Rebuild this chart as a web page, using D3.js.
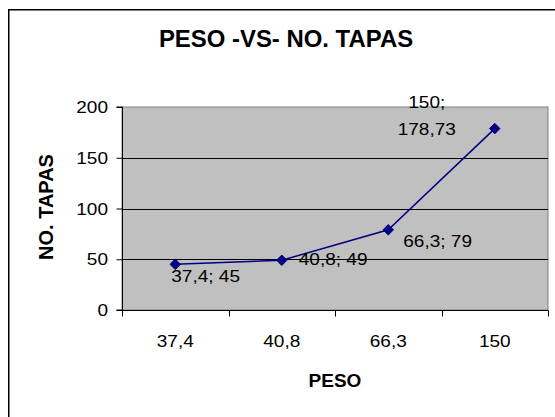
<!DOCTYPE html>
<html>
<head>
<meta charset="utf-8">
<script src="https://cdn.jsdelivr.net/npm/d3@7"></script>
<style>
  html, body { margin: 0; padding: 0; background: #fff; }
  svg { display: block; font-family: "Liberation Sans", Arial, sans-serif; }
</style>
</head>
<body>
<svg id="chart" width="555" height="417"></svg>
<script>
// Weight categories (x) and number of caps (y)
const categories = ["37,4", "40,8", "66,3", "150"];
const tapas = [45, 49, 79, 178.73];
const yTicks = [0, 50, 100, 150, 200];

const svg = d3.select("#chart");
const W = 555, H = 417;
const SX = 1.12; // horizontal stretch of the chart's lettering

// Text helper: places a string at (x, y) with a horizontal stretch
function label(g, x, y, str, opts = {}) {
  return g.append("text")
    .attr("transform", `translate(${x},${y}) scale(${opts.sx || SX},1)`)
    .attr("text-anchor", opts.anchor || "start")
    .attr("font-size", opts.size || 17)
    .attr("font-weight", opts.bold ? "bold" : null)
    .attr("fill", "#000")
    .text(str);
}

// Outer chart frame
svg.append("rect")
  .attr("x", 8.75).attr("y", 9.75)
  .attr("width", W + 10).attr("height", H + 10)
  .attr("fill", "#fff").attr("stroke", "#000").attr("stroke-width", 1.5);

const plot = { left: 122, right: 548, top: 107, bottom: 310 };

const x = d3.scaleBand().domain(categories).range([plot.left, plot.right]).padding(0);
const y = d3.scaleLinear().domain([0, 200]).range([plot.bottom, plot.top]);

// Plot area background
svg.append("rect")
  .attr("x", plot.left).attr("y", plot.top)
  .attr("width", plot.right - plot.left).attr("height", plot.bottom - plot.top)
  .attr("fill", "#c0c0c0").attr("stroke", "#808080").attr("stroke-width", 1);

// Horizontal gridlines
svg.append("g").selectAll("line")
  .data(yTicks.filter(t => t > 0 && t < 200))
  .join("line")
  .attr("x1", plot.left).attr("x2", plot.right)
  .attr("y1", d => Math.round(y(d)) + 0.5).attr("y2", d => Math.round(y(d)) + 0.5)
  .attr("stroke", "#000").attr("stroke-width", 1);

// Y axis
const yAxis = d3.axisLeft(y).tickValues(yTicks).tickSize(6).tickFormat("");
const gy = svg.append("g").attr("transform", `translate(${plot.left + 0.5},0)`).call(yAxis);
gy.select(".domain").attr("stroke", "#000").attr("d", `M-6,${plot.top}H0V${plot.bottom}H-6`);
gy.selectAll(".tick line").attr("stroke", "#000");
yTicks.forEach(t => label(svg, plot.left - 14, y(t) + 6, String(t), { anchor: "end" }));

// X axis: labels centred in each band, tick marks on band boundaries
const gx = svg.append("g").attr("transform", `translate(0,${plot.bottom + 0.5})`);
gx.append("line")
  .attr("x1", plot.left).attr("x2", plot.right + 0.5)
  .attr("stroke", "#000");
const bounds = categories.map(c => x(c)).concat([x(categories[categories.length - 1]) + x.bandwidth()]);
gx.selectAll("line.tk").data(bounds).join("line").attr("class", "tk")
  .attr("x1", d => Math.round(d) + 0.5).attr("x2", d => Math.round(d) + 0.5)
  .attr("y1", 0).attr("y2", 6).attr("stroke", "#000");
categories.forEach(c => label(gx, x(c) + x.bandwidth() / 2, 36, c, { anchor: "middle" }));

// Titles
label(svg, 286, 47, "PESO -VS- NO. TAPAS", { anchor: "middle", size: 23, bold: true, sx: 1.04 });
label(svg, 335, 387, "PESO", { anchor: "middle", size: 19, bold: true, sx: 1 });
svg.append("text")
  .attr("transform", "translate(53,207) rotate(-90)")
  .attr("text-anchor", "middle")
  .attr("font-size", 20).attr("font-weight", "bold")
  .text("NO. TAPAS");

// Series line and markers
const pts = categories.map((c, i) => ({ cat: c, v: tapas[i], px: x(c) + x.bandwidth() / 2, py: y(tapas[i]) }));

svg.append("path")
  .datum(pts)
  .attr("fill", "none").attr("stroke", "#000080").attr("stroke-width", 1.5)
  .attr("d", d3.line().x(d => d.px).y(d => d.py));

svg.append("g").selectAll("path")
  .data(pts).join("path")
  .attr("transform", d => `translate(${d.px},${d.py})`)
  .attr("d", d3.symbol().type(d3.symbolDiamond2).size(70))
  .attr("fill", "#000080").attr("stroke", "#000080");

// Data labels "x; y"
const fmt = v => String(v).replace(".", ",");
const labelPos = [
  { dx: -4, lines: [18], anchor: "start", oneLine: true },
  { dx: 17, lines: [5], anchor: "start", oneLine: true },
  { dx: 15, lines: [17], anchor: "start", oneLine: true },
  { dx: -68, lines: [-21, 6], anchor: "middle", oneLine: false }
];
pts.forEach((d, i) => {
  const lp = labelPos[i];
  const parts = lp.oneLine ? [`${d.cat}; ${fmt(d.v)}`] : [`${d.cat};`, fmt(d.v)];
  parts.forEach((t, j) => label(svg, d.px + lp.dx, d.py + lp.lines[j], t, { anchor: lp.anchor }));
});
</script>
</body>
</html>
